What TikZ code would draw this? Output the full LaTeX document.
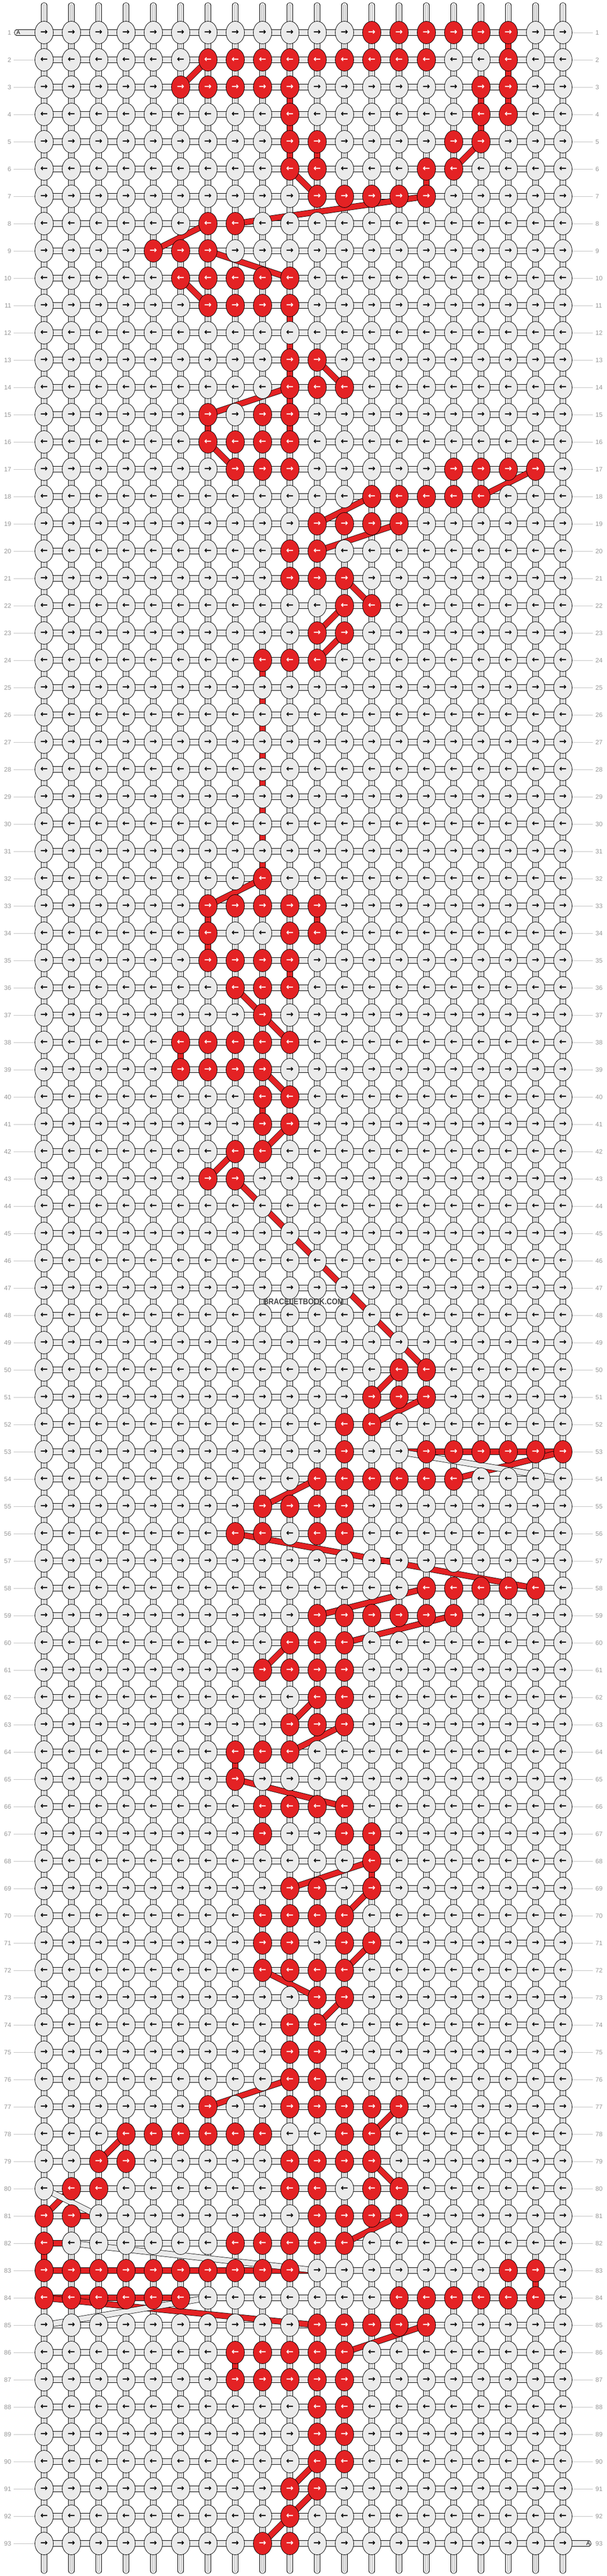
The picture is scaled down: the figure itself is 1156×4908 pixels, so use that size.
\documentclass[tikz,border=0pt]{standalone}
\usepackage{fontspec}
\setmainfont{Liberation Sans}
\newfontfamily\arrowfont{DejaVu Sans}
\usetikzlibrary{shapes.geometric}
\pgfdeclarelayer{bg}
\pgfsetlayers{bg,main}
\definecolor{kred}{RGB}{228,34,36}
\definecolor{kgray}{RGB}{235,235,235}
\definecolor{numgray}{RGB}{150,150,150}
\definecolor{linegray}{RGB}{195,195,195}
\definecolor{stripegray}{RGB}{170,170,170}
\definecolor{wmgray}{RGB}{70,70,70}
\begin{document}
\begin{tikzpicture}[x=1pt,y=-1pt,
  knot/.style={ellipse, draw=black, line width=0.8pt, minimum width=35pt, minimum height=43pt, inner sep=0pt, fill=kgray, font=\arrowfont\bfseries\fontsize{17}{17}\selectfont},
  redknot/.style={knot, fill=kred, text=white},
  htube/.style={draw=black, line width=0.8pt, double=kgray, double distance=9.6pt},
  hred/.style={draw=black, line width=0.8pt, double=kred, double distance=9.6pt},
  vstripe/.style={draw=stripegray, line width=0.5pt, double=white, double distance=2.4pt},
  redbar/.style={draw=black, line width=0.8pt, double=kred, double distance=10pt},
  graybar/.style={draw=black, line width=0.8pt, double=kgray, double distance=10pt},
  num/.style={text=numgray, inner sep=0pt, font=\fontsize{12}{12}\selectfont},
  numline/.style={draw=linegray, line width=0.8pt},
  tablabel/.style={inner sep=0pt, font=\fontsize{10.5}{10.5}\selectfont}
]
\useasboundingbox (0,0) rectangle (1156,4908);
% red knot set
\foreach \r/\L in {1/{13,14,15,16,17,18},2/{7,8,9,10,11,12,13,14,15,18},3/{6,7,8,9,10,17,18},4/{10,17,18},5/{10,11,16,17},6/{10,11,15,16},7/{11,12,13,14,15},8/{7,8},9/{5,6,7},10/{6,7,8,9,10},11/{7,8,9,10},13/{10,11},14/{10,11,12},15/{7,9,10},16/{7,8,9,10},17/{8,9,10,16,17,18,19},18/{13,14,15,16,17},19/{11,12,13,14},20/{10,11},21/{10,11,12},22/{12,13},23/{11,12},24/{9,10,11},32/{9},33/{7,8,9,10,11},34/{7,10,11},35/{7,8,9,10},36/{8,9,10},37/{9},38/{6,7,8,9,10},39/{6,7,8,9},40/{9,10},41/{9,10},42/{8,9},43/{7,8},50/{14,15},51/{13,14,15},52/{12,13},53/{12,15,16,17,18,19,20},54/{11,12,13,14,15,16},55/{9,10,11,12},56/{8,9,11,12},58/{15,16,17,18,19},59/{11,12,13,14,15,16},60/{10,11,12},61/{9,10,11,12},62/{11,12},63/{10,11,12},64/{8,9,10},65/{8},66/{9,10,11,12},67/{9,12,13},68/{13},69/{10,11,13},70/{9,10,11,12},71/{9,10,12,13},72/{9,10,11,12},73/{11,12},74/{10,11},75/{10,11},76/{10,11},77/{7,10,11,12,13,14},78/{4,5,6,7,8,9,12,13},79/{3,4,10,11,12,13},80/{2,3,10,11,13,14},81/{1,2,11,12,13,14},82/{1,8,9,10,11,12},83/{1,2,3,4,5,6,7,8,9,10,18,19},84/{1,2,3,4,5,6,14,15,16,17,18,19},85/{11,12,13,14,15},86/{8,9,10,11,12},87/{8,9,10,11,12},88/{11,12},89/{11,12},90/{11,12},91/{10,11},92/{10},93/{9,10}}
  {\foreach \c in \L {\expandafter\gdef\csname rk-\r-\c\endcsname{}}}
% knots (grid: column c, row r at (c,r) in the scope)
\begin{scope}[shift={(32,10)}, x=52pt, y=-52pt]
\foreach \r in {1,...,93}{\foreach \c in {1,...,20}{%
  \ifodd\r\relax \def\arr{→}\else\def\arr{←}\fi
  \ifcsname rk-\r-\c\endcsname \node[redknot] (k-\r-\c) at (\c,\r) {\arr};%
  \else \node[knot] (k-\r-\c) at (\c,\r) {\arr};\fi}}
\foreach \c in {1,...,20}{\coordinate (t-\c) at (\c,0.0044); \coordinate (b-\c) at (\c,94.0);}
\end{scope}
\coordinate (tabL) at (32.5,62);
\coordinate (tabR) at (1120.5,4846);
\begin{pgfonlayer}{bg}
\fill[white] (0,0) rectangle (1156,4908);
% strings along columns
\foreach \c in {1,...,20}{
  \draw[htube, line cap=round] (t-\c) -- (b-\c);
  \draw[vstripe, line cap=round] (t-\c) -- (b-\c);
}
% working string along rows
\foreach \r in {2,...,92}{\draw[htube] (k-\r-1.center) -- (k-\r-20.center);}
\draw[htube, line cap=round] (tabL) -- (k-1-20.center);
\draw[htube, line cap=round] (k-93-1.center) -- (tabR);
% red segments of column strings (column / upper row)
\foreach \c/\L in {18/{1,2,3},17/{3,4},10/{3,4,5,11,12,13,14,15,35},11/{5,33},15/{6},9/{24,25,26,27,28,29,30,31,40},7/{15,33,34},6/{38},8/{64,86},13/{67,68},1/{82},19/{83}}
  {\foreach \r [evaluate=\r as \rn using int(\r+1)] in \L {\draw[hred] (k-\r-\c.center) -- (k-\rn-\c.center);}}
% red segments of row strings (row / left column)
\foreach \r/\L in {53/{14,15,16,17,18,19},81/{2},82/{1},83/{1,2,3,4,5,6,7,8,9,10},84/{1,2,3,4,5}}
  {\foreach \c [evaluate=\c as \cn using int(\c+1)] in \L {\draw[hred] (k-\r-\c.center) -- (k-\r-\cn.center);}}
% red moving strings
\foreach \ra/\ca/\rb/\cb in {2/7/3/6, 5/17/6/16, 6/10/7/11, 7/15/8/8, 8/7/9/5, 9/7/10/10, 10/6/11/7, 13/11/14/12, 14/10/15/7, 16/7/17/8, 17/19/18/17, 18/13/19/11, 19/14/20/11, 21/12/22/13, 22/12/23/11, 23/12/24/11, 32/9/33/7, 36/8/37/9, 37/9/38/10, 39/9/40/10, 41/10/42/9, 42/8/43/7, 43/8/44/9, 44/9/45/10, 45/10/46/11, 46/11/47/12, 47/12/48/13, 48/13/49/14, 49/14/50/15, 50/14/51/13, 51/15/52/13, 53/20/54/16, 54/11/55/9, 56/8/58/19, 58/15/59/11, 59/16/60/12, 60/10/61/9, 62/11/63/10, 63/12/64/10, 65/8/66/12, 68/13/69/10, 69/13/70/12, 71/13/72/12, 72/9/73/11, 73/12/74/11, 76/10/77/7, 77/14/78/13, 78/4/79/3, 79/13/80/14, 80/2/81/1, 81/14/82/12, 84/1/85/11, 85/15/86/12, 90/11/91/10, 91/11/92/10, 92/10/93/9}
  {\draw[redbar] (k-\ra-\ca.center) -- (k-\rb-\cb.center);}
% white moving strings
\foreach \ra/\ca/\rb/\cb in {53/14/54/20, 80/1/81/3, 82/2/83/11, 84/7/85/1}
  {\draw[graybar] (k-\ra-\ca.center) -- (k-\rb-\cb.center);}
\end{pgfonlayer}
\node[tablabel] (aL) at (35,62) {A};
\node[tablabel] (aR) at (1120,4846) {A};
% row numbers
\foreach \r in {1,...,93}{
  \node[num, anchor=east] (ln-\r) at ({21.5},{62+52*(\r-1)}) {\r};
  \node[num, anchor=west] (rn-\r) at ({1134},{62+52*(\r-1)}) {\r};
}
\foreach \r in {2,...,93}{\draw[numline, shorten <=4.5pt] (ln-\r) -- (k-\r-1);}
\foreach \r in {1,...,92}{\draw[numline, shorten >=5pt] (k-\r-20) -- (rn-\r);}
% watermark
\node[text=wmgray, font=\bfseries\fontsize{16}{16}\selectfont, xscale=0.865, inner sep=0pt] (wm) at (578,2480) {BRACELETBOOK.COM};
\end{tikzpicture}
\end{document}
